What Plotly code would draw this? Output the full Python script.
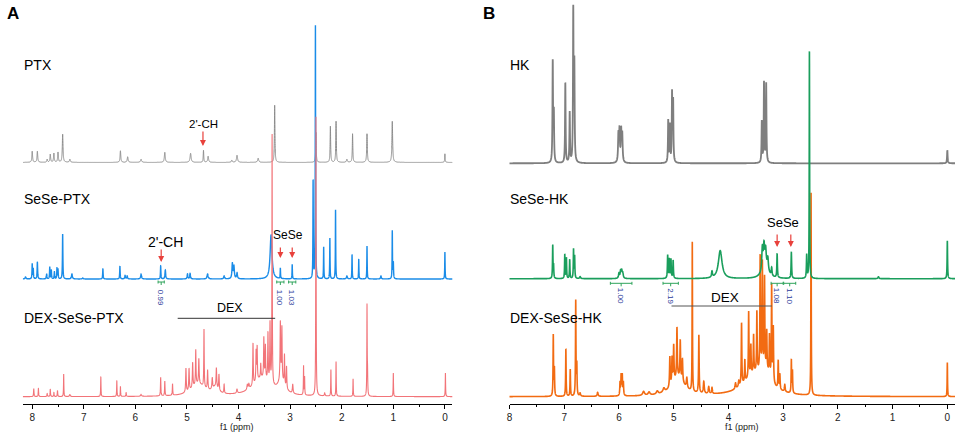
import numpy as np
import plotly.graph_objects as go

# ---------------------------------------------------------------#
# peak tables: (ppm, height, half width)
# height is in screen pixels above the spectrum's own baseline
# ---------------------------------------------------------------#

# panel A
ptx_peaks = [
    (8.00, 11, .008), (7.90, 11, .008), (7.71, 3, .008), (7.65, 8, .008),
    (7.58, 9, .008), (7.50, 10, .008), (7.41, 28, .008), (7.27, 3, .01),
    (6.29, 11.5, .008), (6.15, 5.5, .01), (5.89, 3, .012), (5.43, 10, .01),
    (4.93, 9, .012), (4.68, 12, .006), (4.59, 6, .01), (4.13, 2, .01),
    (4.03, 7, .012), (3.62, 4, .012), (3.30, 57, .006), (2.50, 30, .006),
    (2.22, 36, .006), (2.11, 41, .006), (1.90, 3, .01), (1.79, 28.5, .006),
    (1.51, 28.5, .007), (1.02, 41, .008), (0.00, 8.5, .005),
]
sese_ptx_peaks = [
    (8.13, 2, .01), (8.00, 15, .005), (7.98, 10, .005), (7.90, 17, .006),
    (7.72, 5, .006), (7.66, 12, .005), (7.63, 9, .005), (7.57, 7, .005),
    (7.52, 11, .005), (7.50, 9, .005), (7.41, 45, .005), (7.23, 5, .01),
    (7.02, 1, .01), (6.63, 10.5, .005), (6.30, 13, .005), (6.20, 3.5, .008),
    (6.16, 3, .008), (5.89, 5, .01), (5.51, 13, .005), (5.42, 9, .008),
    (4.99, 5, .008), (4.94, 5.5, .008), (4.60, 5, .012), (4.28, 3, .01),
    (4.12, 15, .01), (4.09, 12, .01), (4.03, 6, .01), (3.37, 44, .022),
    (3.19, 10.5, .004), (2.96, 14.5, .004), (2.555, 98, .004), (2.51, 254, .004),
    (2.35, 32, .004), (2.23, 41, .004), (2.12, 69, .004), (1.90, 3, .01),
    (1.80, 24.5, .004), (1.67, 19.5, .004), (1.51, 33, .004), (1.24, 3, .008),
    (1.02, 48, .004), (1.00, 16, .005), (0.00, 27, .004),
]
dex_ptx_peaks = [
    (7.97, 8, .005), (7.88, 8, .005), (7.71, 3, .006), (7.65, 7.5, .005),
    (7.58, 4, .005), (7.51, 6, .005), (7.39, 22.5, .004), (7.27, 2, .01),
    (6.67, 20, .004), (6.36, 16, .004), (6.29, 10, .004), (6.18, 4, .005),
    (5.89, 2, .01), (5.51, 18.5, .005), (5.43, 14.5, .005), (5.28, 11.5, .005),
    (5.02, 24, .007), (4.96, 22, .007), (4.89, 25, .007), (4.83, 35, .006),
    (4.77, 25, .007), (4.67, 58, .005), (4.60, 19, .007), (4.51, 11, .008),
    (4.43, 19, .007), (4.38, 16, .007), (4.28, 9, .006), (4.03, 4, .01),
    (3.83, 5, .01), (3.80, 5, .01), (3.72, 42, .006), (3.66, 30, .006),
    (3.64, 33, .006), (3.57, 14, .006), (3.51, 40, .006), (3.48, 33, .006),
    (3.43, 48, .006), (3.39, 60, .006), (3.35, 250, .004), (3.19, 58, .007),
    (3.16, 52, .006), (3.11, 30, .006), (3.07, 22, .006), (2.95, 9, .008),
    (2.74, 29, .004), (2.72, 18, .004), (2.50, 280, .004), (2.33, 3, .008),
    (2.21, 26.5, .004), (2.11, 34.5, .004), (1.78, 17.5, .004), (1.51, 89, .004),
    (1.50, 20, .005), (1.00, 23.5, .004), (-0.01, 23.5, .004),
    (4.78, 12, .16), (4.45, 7, .07), (3.55, 18, .2), (3.17, 12, .08),
]

# panel B
hk_peaks = [
    (7.21, 100, .006), (7.19, 48, .006), (6.98, 80, .006), (6.90, 50, .006),
    (6.835, 150, .006), (6.815, 95, .006),
    (6.01, 27, .008), (5.99, 31, .008), (5.96, 31, .008), (5.94, 27, .008),
    (5.10, 42, .006), (5.07, 37, .006), (5.03, 68, .006), (5.01, 60, .006),
    (3.39, 41, .006), (3.35, 80, .006), (3.31, 79, .006), (0.00, 13, .006),
]
sese_hk_peaks = [
    (7.21, 33, .005), (7.195, 12, .005), (6.99, 24, .005), (6.96, 20, .005),
    (6.90, 19, .005), (6.83, 29, .005), (6.81, 22, .005), (6.71, 2, .01),
    (6.00, 5, .01), (5.97, 7, .01), (5.95, 7, .01), (5.93, 5, .01),
    (5.11, 23, .006), (5.08, 19, .006), (5.05, 19, .006), (5.01, 18, .006),
    (4.30, 6, .01), (4.15, 28, .04),
    (3.38, 22, .012), (3.35, 20, .012), (3.32, 15, .012), (3.28, 12, .012),
    (3.33, 14, .06), (3.21, 8, .008), (3.11, 24, .006), (2.85, 26, .006),
    (2.57, 23, .006), (2.52, 228, .004), (1.26, 2, .01), (0.00, 38, .005),
]
dex_hk_peaks = [
    (7.20, 61, .005), (7.18, 27, .005), (6.97, 47, .005), (6.89, 27, .005),
    (6.79, 95, .005), (6.77, 30, .005), (6.71, 3, .01), (6.39, 4, .01),
    (5.98, 13, .006), (5.96, 20, .006), (5.94, 20, .006), (5.92, 13, .006),
    (5.55, 4, .02), (5.45, 3, .02), (5.30, 3, .02), (5.18, 4, .02),
    (5.07, 30, .007), (5.03, 26, .007), (5.00, 36, .007), (4.94, 50, .007),
    (4.88, 38, .007), (4.84, 22, .007), (4.76, 10, .01), (4.66, 150, .004),
    (4.54, 58, .006), (4.45, 12, .01), (4.36, 7, .01), (4.30, 6, .008),
    (3.87, 6, .01), (3.81, 6, .01), (3.76, 62, .006), (3.70, 22, .006),
    (3.63, 66, .006), (3.59, 30, .006), (3.54, 38, .006), (3.48, 60, .006),
    (3.42, 115, .006), (3.38, 108, .006), (3.34, 92, .006), (3.30, 38, .006),
    (3.25, 40, .006), (3.21, 95, .006), (3.18, 55, .006), (3.09, 28, .006),
    (3.06, 15, .006), (2.97, 7, .008), (2.85, 33, .005), (2.83, 22, .005),
    (2.49, 203, .004), (0.00, 34, .004),
    (4.92, 18, .14), (3.5, 22, .25), (3.3, 12, .08),
]

# integral labels: (ppm centre, half span in ppm, value)
ptx_integrals = [(5.50, .06, "0.99"), (3.19, .07, "1.00"), (2.96, .07, "1.03")]
hk_integrals = [(5.96, .197, "1.00"), (5.055, .14, "2.19"),
                (3.11, .11, "1.08"), (2.88, .11, "1.10")]

ticks = [0, 1, 2, 3, 4, 5, 6, 7, 8]


# ---------------------------------------------------------------#
# helpers
# ---------------------------------------------------------------#

W, H = 955, 433
AXIS_PY = 404                      # pixel row of the ppm axis line
grid = np.linspace(8.3, -0.25, 12000)


def spectrum(peaks, base):
    # sum of lorentzian lines for a peak table, shifted up to its baseline
    y = np.zeros_like(grid)
    for p, h, w in peaks:
        y += h * w**2 / ((grid - p)**2 + w**2)
    return y + base


def px(x):
    return x / W


def py(y):
    return 1 - y / H


def lvl(y):
    # pixel row -> y data units (pixels above the axis line)
    return AXIS_PY - y


FONT = "Arial, Liberation Sans, sans-serif"

fig = go.Figure()


def add(peaks, base, color, width, axis):
    # simplify off so the narrow spikes keep their full height
    fig.add_trace(go.Scatter(x=grid, y=spectrum(peaks, lvl(base)), mode="lines",
                             line=dict(color=color, width=width, simplify=False),
                             xaxis="x" + axis, yaxis="y" + axis))


# panel A spectra (grey, blue, red drawn in that order)
add(ptx_peaks, 162.3, "#8c8c8c", 1, "")
add(sese_ptx_peaks, 279, "#1a8ce8", 1.4, "")
add(dex_ptx_peaks, 396.7, "#f27479", 1.1, "")

# panel B spectra
add(hk_peaks, 163.3, "#7f7f7f", 1.8, "2")
add(dex_hk_peaks, 396.7, "#f26b12", 1.6, "2")
add(sese_hk_peaks, 278.7, "#1a9e5c", 1.6, "2")

xax = dict(autorange=False, showgrid=False, zeroline=False, showline=True,
           linecolor="black", linewidth=1.2, ticks="outside", ticklen=4,
           tickcolor="black", tickwidth=1, tickvals=ticks,
           ticktext=[str(t) for t in ticks], ticklabeloverflow="allow",
           tickfont=dict(family=FONT, size=10, color="#222"),
           minor=dict(dtick=0.5, ticks="outside", ticklen=2, tickcolor="black"))
yax = dict(range=[0, AXIS_PY], domain=[py(AXIS_PY), 1], visible=False,
           fixedrange=True)

fig.update_layout(
    width=W, height=H, margin=dict(l=0, r=0, t=0, b=0),
    plot_bgcolor="white", paper_bgcolor="white", showlegend=False,
    xaxis=dict(xax, range=[8.18, -0.143], domain=[px(20), px(450.7)], anchor="y"),
    xaxis2=dict(xax, range=[8.0, -0.14], domain=[px(508.1), 1], anchor="y2"),
    yaxis=dict(yax, anchor="x"),
    yaxis2=dict(yax, anchor="x2"),
)

ann = []


def text(x, y, s, size, anchor="left", bold=False, color="black"):
    ann.append(dict(x=px(x), y=py(y), xref="paper", yref="paper", text=s,
                    showarrow=False, xanchor=anchor, yanchor="middle",
                    font=dict(family=FONT, size=size, color=color,
                              weight="bold" if bold else "normal")))


def arrow(xref, yref, ppm, tip, tail):
    ann.append(dict(x=ppm, y=lvl(tip), xref=xref, yref=yref, text="",
                    showarrow=True, ax=0, ay=-(tip - tail), arrowhead=2,
                    arrowsize=1, arrowwidth=1.2, arrowcolor="#e8413c"))


# panel letters and sample names
text(2, 13, "A", 17, bold=True)
text(480, 13, "B", 17, bold=True)
text(19, 65, "PTX", 14)
text(19, 199, "SeSe-PTX", 14)
text(19, 318, "DEX-SeSe-PTX", 14)
text(507, 65, "HK", 14)
text(507, 199, "SeSe-HK", 14)
text(507, 318, "DEX-SeSe-HK", 14)

# panel A labels
text(200.7, 124, "2'-CH", 11.5, anchor="center")
text(163, 242, "2'-CH", 14, anchor="center")
text(286, 235, "SeSe", 12, anchor="center")
text(228, 308, "DEX", 12.5, anchor="center")
arrow("x", "y", 4.69, 146, 130)
arrow("x", "y", 5.50, 262, 248)
arrow("x", "y", 3.19, 258, 246)
arrow("x", "y", 2.96, 258, 246)

# panel B labels
text(782, 222, "SeSe", 13, anchor="center")
text(724, 297, "DEX", 13.5, anchor="center")
arrow("x2", "y2", 3.11, 247, 233)
arrow("x2", "y2", 2.86, 247, 233)

# axis titles
text(235, 427, "f1 (ppm)", 9, anchor="center", color="#222")
text(741, 427, "f1 (ppm)", 9, anchor="center", color="#222")

shapes = []


def integrals(items, xref, yref, bar_py, label_py):
    for c, half, s in items:
        yb = lvl(bar_py)
        line = dict(color="#2ea35a", width=1)
        shapes.append(dict(type="line", xref=xref, yref=yref, x0=c - half, x1=c + half,
                           y0=yb, y1=yb, line=line))
        for e in (c - half, c + half):
            shapes.append(dict(type="line", xref=xref, yref=yref, x0=e, x1=e,
                               y0=yb - 1.5, y1=yb + 1.5, line=line))
        shapes.append(dict(type="line", xref=xref, yref=yref, x0=c, x1=c,
                           y0=yb, y1=yb - 3, line=line))
        ann.append(dict(x=c, y=lvl(label_py), xref=xref, yref=yref, text=s,
                        showarrow=False, textangle=90,
                        font=dict(family=FONT, size=8, color="#2b3a9a")))


integrals(ptx_integrals, "x", "y", 282, 298)
integrals(hk_integrals, "x2", "y2", 283.3, 296)

# DEX brackets
shapes.append(dict(type="line", xref="x", yref="y", x0=5.18, x1=3.29,
                   y0=lvl(318.3), y1=lvl(318.3), line=dict(color="#333", width=1)))
shapes.append(dict(type="line", xref="x2", yref="y2", x0=5.04, x1=3.206,
                   y0=lvl(306), y1=lvl(306), line=dict(color="#555", width=1)))

fig.update_layout(annotations=ann, shapes=shapes)

# the page body has a default margin; drop it so the figure fills the window
fig.write_html("out.html", config={"displayModeBar": False},
               post_script="document.body.style.margin='0';"
               "document.body.style.overflow='hidden';")
